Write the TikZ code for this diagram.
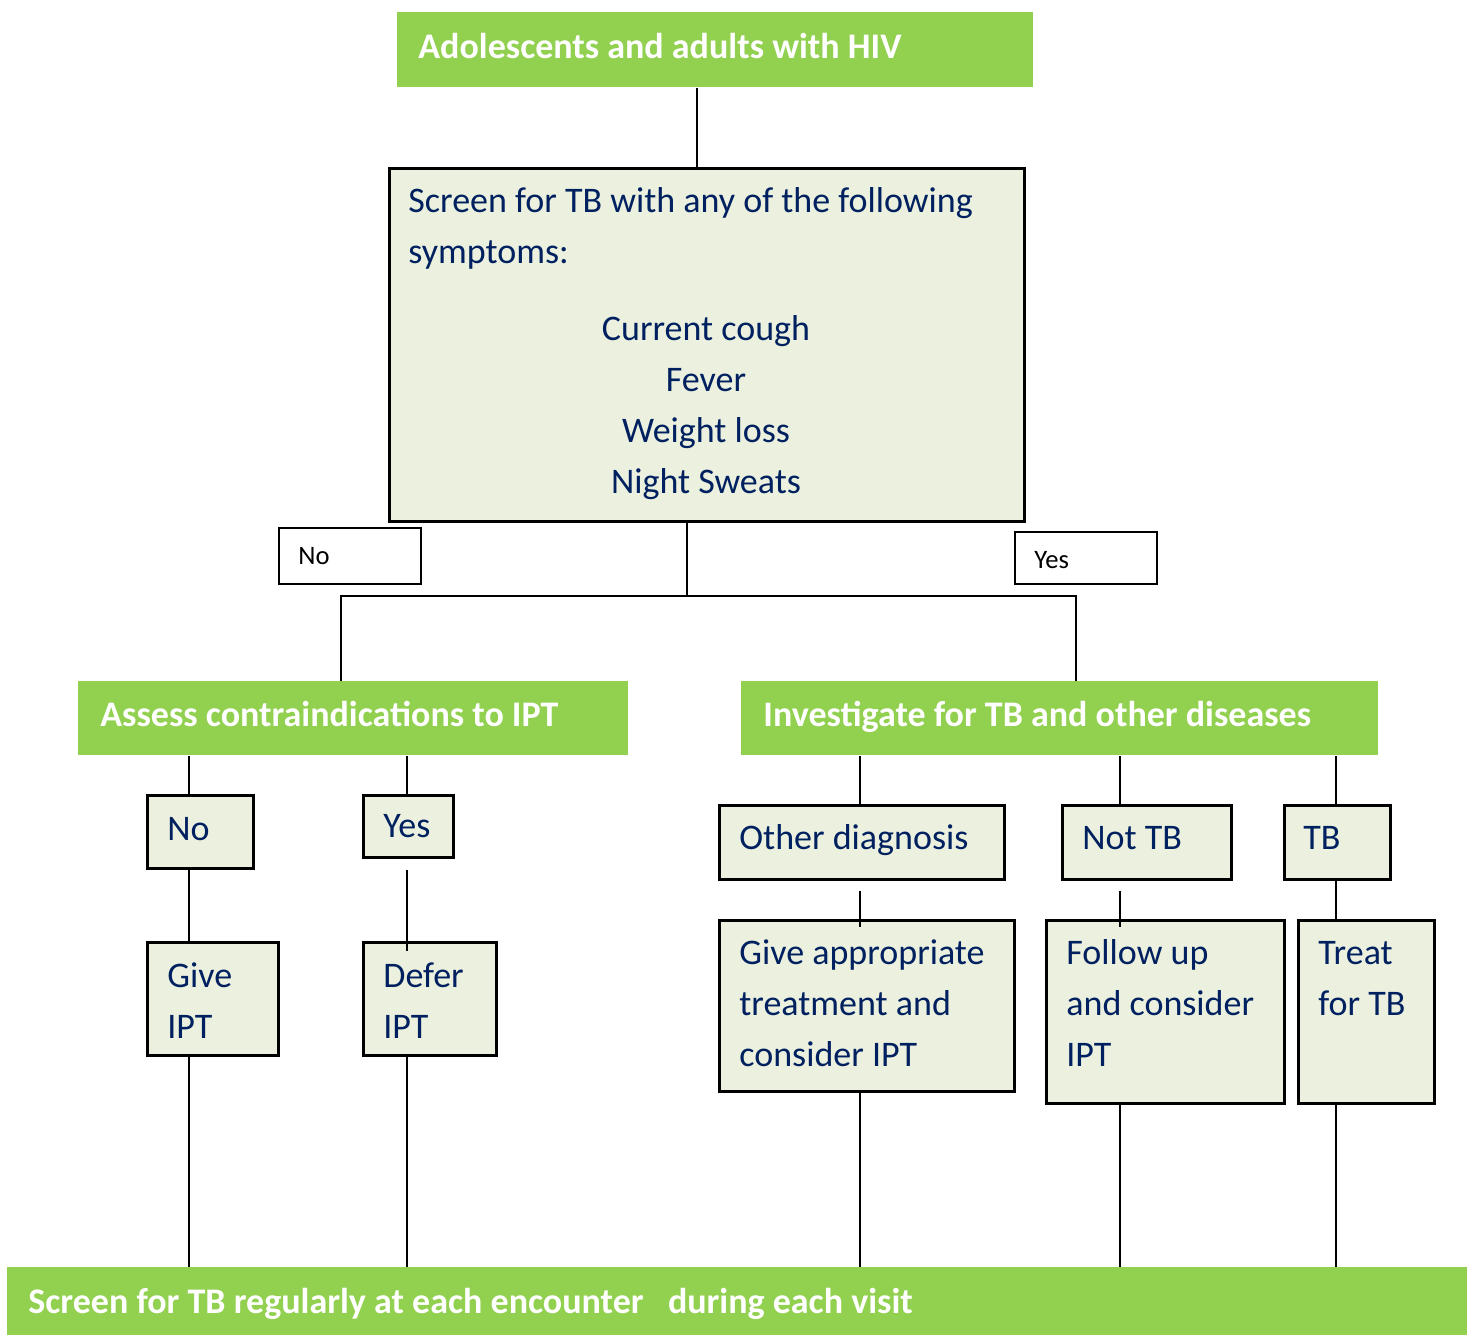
\documentclass[tikz,border=0pt]{standalone}
\usepackage{fontspec}
\setmainfont{Carlito}
\usetikzlibrary{calc}
\definecolor{hdrgreen}{RGB}{146,208,80}
\definecolor{boxfill}{RGB}{235,241,222}
\definecolor{navy}{RGB}{0,32,96}

% rectangle node from its top-left and bottom-right corners
\newcommand\mkbox[6]{\node[#2, anchor=north west, inner sep=0pt,
  minimum width={(#5-#3)*0.5pt}, minimum height={(#6-#4)*0.5pt}] (#1) at (#3,#4) {};}

\tikzset{
  green box/.style={fill=hdrgreen, draw=none},
  pale box/.style={fill=boxfill, draw=black, line width=1.3pt},
  white box/.style={fill=white, draw=black, line width=1.2pt},
  head/.style={text=white, font=\fontsize{18}{22}\selectfont\bfseries, anchor=base west, inner sep=0pt},
  body/.style={text=navy, font=\fontsize{18}{25.5}\selectfont, anchor=base west, inner sep=0pt,
    text width=160pt, align=flush left},
  tag/.style={text=black, font=\fontsize{13.3}{16}\selectfont, anchor=base west, inner sep=0pt},
  link/.style={line width=0.9pt, draw=black},
}

\begin{document}
\begin{tikzpicture}[x=0.5pt,y=-0.5pt]
\useasboundingbox (0,0) rectangle (1475,1335);

% boxes
\mkbox{top}{green box}{397}{12}{1033}{87}
\mkbox{screen}{pale box}{388}{167}{1023}{520}
\mkbox{notag}{white box}{278}{527}{420}{583}
\mkbox{yestag}{white box}{1014}{531}{1156}{583}
\mkbox{assess}{green box}{78}{681}{628}{755}
\mkbox{invest}{green box}{741}{681}{1378}{755}
\mkbox{no1}{pale box}{146}{794}{252}{867}
\mkbox{yes1}{pale box}{362}{794}{452}{856}
\mkbox{give}{pale box}{146}{941}{277}{1054}
\mkbox{defer}{pale box}{362}{941}{495}{1054}
\mkbox{other}{pale box}{718}{804}{1003}{878}
\mkbox{nottb}{pale box}{1061}{804}{1230}{878}
\mkbox{tb}{pale box}{1283}{804}{1389}{878}
\mkbox{treatment}{pale box}{718}{919}{1013}{1090}
\mkbox{follow}{pale box}{1045}{919}{1283}{1102}
\mkbox{treat}{pale box}{1297}{919}{1433}{1102}
\mkbox{bottom}{green box}{7}{1267}{1467}{1335}

% connector columns
\coordinate (xt) at (697,0);
\coordinate (xs) at (687,596);
\coordinate (xl) at (341,596);
\coordinate (xr) at (1076,596);
\coordinate (xa) at (189,0);
\coordinate (xb) at (407,0);
\coordinate (xc) at (860,0);
\coordinate (xd) at (1120,0);
\coordinate (xe) at (1336,0);

% connectors
\draw[link] (top.south -| xt) -- (screen.north -| xt);
\draw[link] (screen.south -| xs) -- (xs);
\draw[link] (assess.north -| xl) -- (xl) -- (xr) -- (invest.north -| xr);

\draw[link] (assess.south -| xa) -- (no1.north -| xa);
\draw[link] (no1.south -| xa) -- (give.north -| xa);
\draw[link] (give.south -| xa) -- (bottom.north -| xa);

\draw[link] (assess.south -| xb) -- (yes1.north -| xb);
\draw[link] ($(yes1.south -| xb)+(0,11)$) -- ($(defer.north -| xb)+(0,10)$);
\draw[link] (defer.south -| xb) -- (bottom.north -| xb);

\draw[link] (invest.south -| xc) -- (other.north -| xc);
\draw[link] ($(other.south -| xc)+(0,10)$) -- ($(treatment.north -| xc)+(0,8)$);
\draw[link] (treatment.south -| xc) -- (bottom.north -| xc);

\draw[link] (invest.south -| xd) -- (nottb.north -| xd);
\draw[link] ($(nottb.south -| xd)+(0,10)$) -- ($(follow.north -| xd)+(0,8)$);
\draw[link] (follow.south -| xd) -- (bottom.north -| xd);

\draw[link] (invest.south -| xe) -- (tb.north -| xe);
\draw[link] (tb.south -| xe) -- (treat.north -| xe);
\draw[link] (treat.south -| xe) -- (bottom.north -| xe);

% texts
\node[head] (top-t) at (418,58) {Adolescents and adults with HIV};
\node[body, text width=300pt] (screen-q) at (408,212) {Screen for TB with any of the following\\symptoms:};
\node[body, anchor=base, align=flush center] (screen-l) at (706,340) {Current cough\\Fever\\Weight loss\\Night Sweats};
\node[tag] (notag-t) at (298,564) {No};
\node[tag] (yestag-t) at (1034,568) {Yes};
\node[head] (assess-t) at (100,726) {Assess contraindications to IPT};
\node[head] (invest-t) at (763,726) {Investigate for TB and other diseases};
\node[body] (no1-t) at (167,840) {No};
\node[body] (yes1-t) at (383,837) {Yes};
\node[body] (give-t) at (167,987) {Give\\IPT};
\node[body] (defer-t) at (383,987) {Defer\\IPT};
\node[body] (other-t) at (739,849) {Other diagnosis};
\node[body] (nottb-t) at (1082,849) {Not TB};
\node[body] (tb-t) at (1303,849) {TB};
\node[body] (treatment-t) at (739,964) {Give appropriate\\treatment and\\consider IPT};
\node[body] (follow-t) at (1066,964) {Follow up\\and consider\\IPT};
\node[body] (treat-t) at (1318,964) {Treat\\for TB};
\node[head] (bottom-t) at (28,1313) {Screen for TB regularly at each encounter\ \ \ during each visit};
\end{tikzpicture}
\end{document}
